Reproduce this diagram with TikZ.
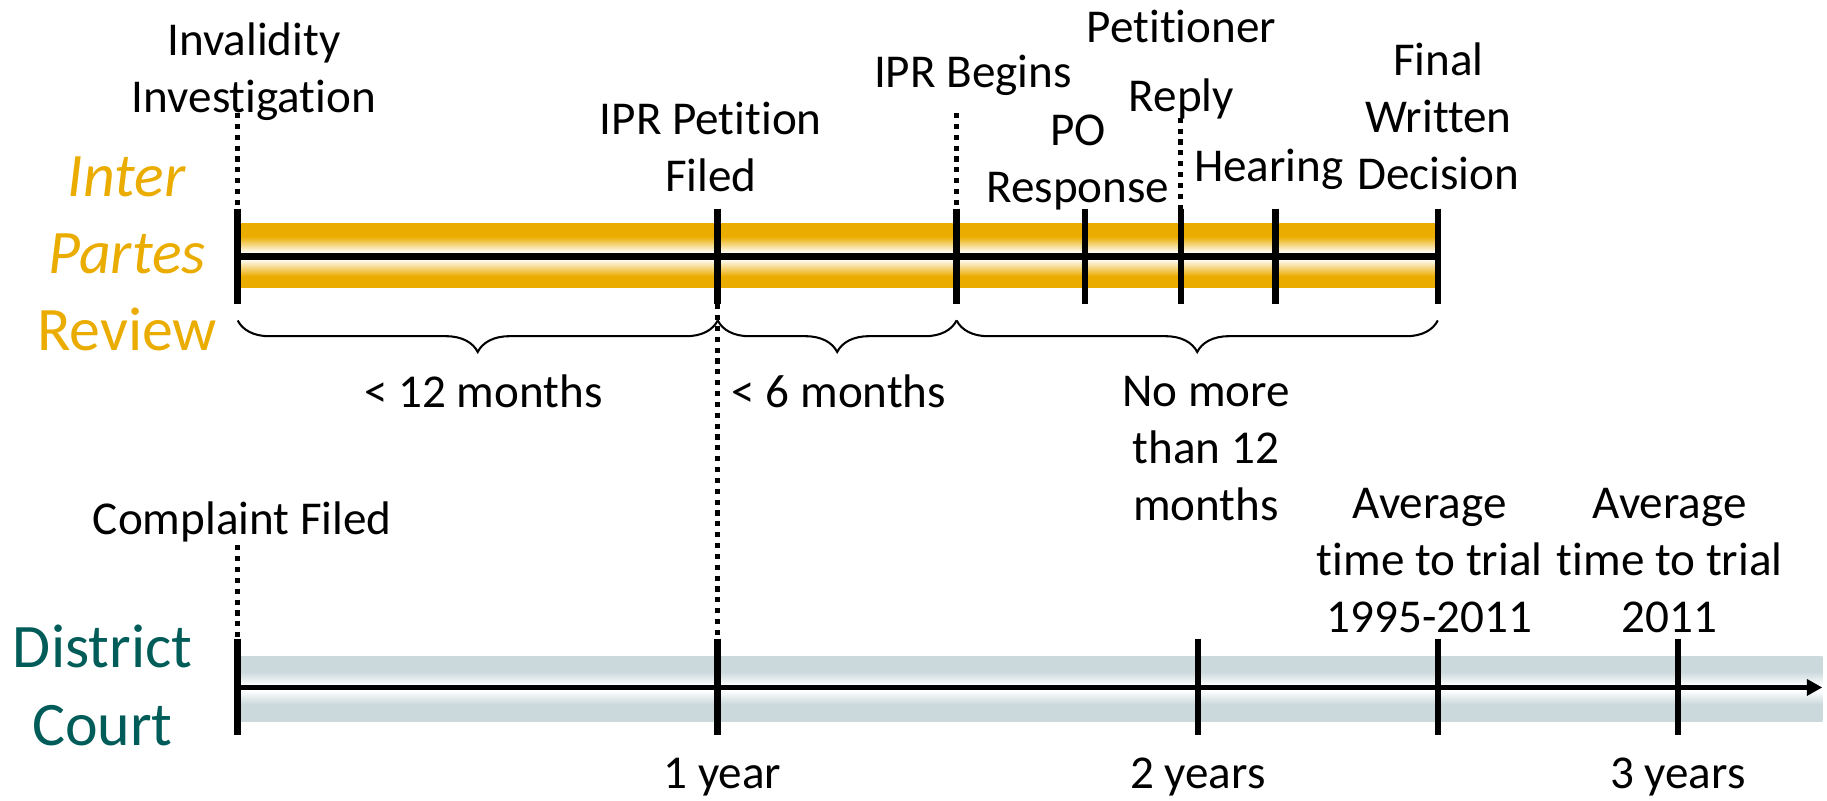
\documentclass[tikz,border=0pt]{standalone}
\usepackage{fontspec}
\setmainfont{Carlito}[Ligatures={TeX,NoCommon}]
\usetikzlibrary{decorations.pathreplacing, arrows.meta}

\definecolor{iprgold}{RGB}{235,172,0}
\definecolor{dcgrey}{RGB}{203,216,220}
\definecolor{dcteal}{RGB}{0,92,88}

\pgfdeclareverticalshading{iprband}{100bp}{color(0bp)=(iprgold); color(34bp)=(iprgold); color(47.5bp)=(white); color(52.5bp)=(white); color(65bp)=(iprgold); color(100bp)=(iprgold)}
\pgfdeclareverticalshading{dcband}{100bp}{color(0bp)=(dcgrey); color(38bp)=(dcgrey); color(48.5bp)=(white); color(52.5bp)=(white); color(63bp)=(dcgrey); color(100bp)=(dcgrey)}

\tikzset{
  lbl/.style={font=\fontsize{11.5}{13.9}\selectfont, align=center, inner sep=0pt, anchor=base},
  sidelbl/.style={font=\fontsize{15.1}{18.8}\selectfont, align=center, inner sep=0pt, anchor=base},
  tickmark/.style={line width=1.6pt},
  dotline/.style={line width=1.25pt, dash pattern=on 1.25pt off 1.4pt},
  bracebelow/.style={decorate, decoration={brace, mirror, amplitude=7.7pt}, line width=0.5pt},
}

\begin{document}
\begin{tikzpicture}[x=0.01cm, y=-0.01cm]
	\useasboundingbox (0,0) rectangle (1568,687);
	
	% ==================== Inter Partes Review ====================
	\shade[shading=iprband] (204,192) rectangle (1234,247);
	\draw[line width=1.6pt] (204,220) -- (1234,220);
	\foreach \x in {204,616,821,931,1013.5,1094.5,1234}
		\draw[tickmark] (\x,179) -- (\x,261);
	
	% dotted guides above the ticks
	\draw[dotline] (204,97) -- (204,179);
	\draw[dotline] (821,97) -- (821,179);
	\draw[dotline] (1013.5,101) -- (1013.5,179);
	
	% (base = last line)
	\node[sidelbl, text=iprgold] (ipr) at (109,301) {\textit{Inter}\\\textit{Partes}\\Review};
	
	\node[lbl] (inval) at (218,96.7) {Invalidity\\Investigation};
	\node[lbl] (petition) at (610,164.5) {IPR Petition\\Filed};
	\node[lbl] (begins) at (835,75) {IPR Begins};
	\node[lbl] (poresp) at (925,173.6) {PO\\Response};
	\node[lbl] (reply) at (1014,95.3) {Petitioner\\[2.8pt]Reply};
	\node[lbl] (hearing) at (1089,156) {Hearing};
	\node[lbl] (final) at (1234.5,162.5) {Final\\Written\\Decision};
	
	% braces under the bar
	\coordinate (b0) at (204,275);
	\coordinate (b1) at (616,275);
	\coordinate (b2) at (821,275);
	\coordinate (b3) at (1234,275);
	\draw[bracebelow] (b0) -- (b1);
	\draw[bracebelow] (b1) -- (b2);
	\draw[bracebelow] (b2) -- (b3);
	
	\node[lbl] (m12) at (415,350) {< 12 months};
	\node[lbl] (m6) at (720,350) {< 6 months};
	\node[lbl] (nomore) at (1035,446.3) {No more\\than 12\\months};
	
	% ==================== District Court ====================
	\shade[shading=dcband] (204,563) rectangle (1564,619);
	\draw[line width=1.2pt, -{Triangle[length=3.8pt, width=3.9pt]}] (204,590) -- (1564,590);
	\foreach \x in {204,616,1028,1234,1440}
		\draw[tickmark] (\x,548) -- (\x,631);
	
	\draw[dotline] (616,261) -- (616,548);
	\draw[dotline] (204,468) -- (204,548);
	
	\node[sidelbl, text=dcteal] (dc) at (88,639.4) {District\\Court};
	
	\node[lbl] (complaint) at (208,459) {Complaint Filed};
	\node[lbl] (avgold) at (1227,542.7) {Average\\time to trial\\1995-2011};
	\node[lbl] (avgnew) at (1433,542.7) {Average\\time to trial\\2011};
	
	\node[lbl] (yr1) at (620,677) {1 year};
	\node[lbl] (yr2) at (1028,677) {2 years};
	\node[lbl] (yr3) at (1440,677) {3 years};
\end{tikzpicture}
\end{document}
